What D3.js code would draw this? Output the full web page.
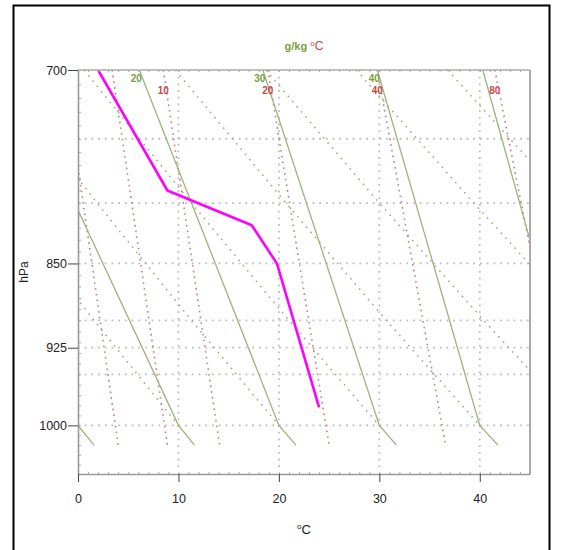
<!DOCTYPE html>
<html>
<head>
<meta charset="utf-8">
<script src="https://cdn.jsdelivr.net/npm/d3@7"></script>
<style>
  body { margin: 0; background: #fff; }
  svg { font-family: Arial, "Liberation Sans", sans-serif; }
</style>
</head>
<body>
<svg id="chart" width="561" height="550"></svg>
<script>
// sounding profile (magenta)
const soundP = [700, 790, 818, 850, 982];
const soundT = [2.0, 8.9, 17.3, 19.8, 24.0];

// moist adiabats (solid green) - temps at 700 / 1000 / 1020 hPa
const moistLabels = [0, 10, 20, 30, 40, 50];
const moistP = [700, 1000, 1020];
const moistT700 = [-20.0, -6.5, 6.1, 18.4, 29.8, 40.3];
const moistT1000 = [0.0, 10.0, 20.0, 30.0, 40.0, 50.1];
const moistT1020 = [1.6, 11.6, 21.7, 31.7, 41.8, 51.8];
const moistShown = [20, 30, 40];

// mixing ratio lines (red dots) g/kg - temps at 700 / 1020 hPa
const mixLabels = [5, 7, 10, 20, 40, 80];
const mixP = [700, 1020];
const mixT700 = [-1.4, 3.4, 8.5, 18.9, 29.8, 41.5];
const mixT1020 = [4.0, 8.9, 14.1, 25.0, 36.6, 48.9];
const mixShown = [10, 20, 40, 80];

// dry adiabats (green dots) - temps at 700 / 800 / 900 / 1000 hPa
const dryLabels = [10, 20, 30, 40, 50, 60, 70];
const dryP = [700, 800, 900, 1000];
const dryT700 = [-17.4, -8.4, 0.6, 9.7, 18.7, 27.7, 36.8];
const dryT800 = [-7.5, 1.9, 11.3, 20.7, 30.0, 39.4, 48.8];
const dryT900 = [1.6, 11.3, 21.0, 30.7, 40.4, 50.1, 59.8];
const dryT1000 = [10, 20, 30, 40, 50, 60, 70];

// axes
const pTicks = [700, 850, 925, 1000];
const tTicks = [0, 10, 20, 30, 40];
const pGrid = [750, 800, 850, 900, 925, 950, 1000];
const tGrid = [10, 20, 30, 40];

const green = "#9bb47a", greenTxt = "#7a9e40";
const red = "#d27878", redTxt = "#bf4c4c";
const grey = "#bdbdbd";

let svg = d3.select("#chart");
let margin = { top: 70, right: 31, bottom: 76, left: 78 };
let width = 561 - margin.left - margin.right;   // 452
let height = 550 - margin.top - margin.bottom;  // 404

// outer black frame
svg.append("rect")
    .attr("x", 13.5).attr("y", 5.5)
    .attr("width", 536).attr("height", 560)
    .attr("fill", "none").attr("stroke", "#000").attr("stroke-width", 2);

let x = d3.scaleLinear([0, 45], [0, width]);
let y = d3.scaleLog([700, 1050], [0, height]);

let g = svg.append("g").attr("transform", "translate(" + margin.left + "," + margin.top + ")");

g.append("clipPath").attr("id", "clip")
    .append("rect").attr("width", width).attr("height", height);

let line = d3.line().x(d => x(d[1])).y(d => y(d[0]));

// grid
let grid = g.append("g");
grid.selectAll(".hg").data(pGrid).enter().append("line")
    .attr("x1", 0).attr("x2", width)
    .attr("y1", d => y(d)).attr("y2", d => y(d))
    .attr("stroke", grey).attr("stroke-width", 1.8).attr("stroke-dasharray", "1.8,4.9");
grid.selectAll(".vg").data(tGrid).enter().append("line")
    .attr("x1", d => x(d)).attr("x2", d => x(d))
    .attr("y1", 0).attr("y2", height - 6)
    .attr("stroke", grey).attr("stroke-width", 1.8).attr("stroke-dasharray", "1.8,4.9");

let lines = g.append("g").attr("clip-path", "url(#clip)");

// dry adiabats
lines.selectAll(".dry").data(dryLabels).enter().append("path")
    .attr("d", (d, i) => line(d3.zip(dryP, [dryT700[i], dryT800[i], dryT900[i], dryT1000[i]])))
    .attr("fill", "none").attr("stroke", green).attr("stroke-width", 1.6)
    .attr("stroke-dasharray", "1.6,5.2");

// mixing ratio
lines.selectAll(".mix").data(mixLabels).enter().append("path")
    .attr("d", (d, i) => line(d3.zip(mixP, [mixT700[i], mixT1020[i]])))
    .attr("fill", "none").attr("stroke", red).attr("stroke-width", 1.6)
    .attr("stroke-dasharray", "1.6,4.2");

// moist adiabats
lines.selectAll(".moist").data(moistLabels).enter().append("path")
    .attr("d", (d, i) => line(d3.zip(moistP, [moistT700[i], moistT1000[i], moistT1020[i]])))
    .attr("fill", "none").attr("stroke", green).attr("stroke-width", 1.3);

// sounding
lines.append("path")
    .attr("d", line(d3.zip(soundP, soundT)))
    .attr("fill", "none").attr("stroke", "#ff00ff").attr("stroke-width", 2.6)
    .attr("stroke-linejoin", "round");

// labels on the lines
g.selectAll(".mlab").data(moistShown).enter().append("text")
    .attr("x", d => x(moistT700[moistLabels.indexOf(d)]) - 3)
    .attr("y", 12)
    .attr("text-anchor", "middle").attr("font-size", 10).attr("font-weight", "bold")
    .attr("fill", greenTxt).text(d => d);
g.selectAll(".wlab").data(mixShown).enter().append("text")
    .attr("x", d => x(mixT700[mixLabels.indexOf(d)]))
    .attr("y", 24)
    .attr("text-anchor", "middle").attr("font-size", 10).attr("font-weight", "bold")
    .attr("fill", redTxt).text(d => d);

// minor ticks
g.append("g").call(d3.axisRight(y).tickValues(d3.range(710, 1050, 10)).tickSize(3).tickFormat(""))
    .call(a => a.select(".domain").remove())
    .selectAll("line").attr("stroke", "#aaa");
g.append("g").call(d3.axisBottom(x).tickValues(d3.range(1, 45, 1)).tickSize(2).tickFormat(""))
    .call(a => a.select(".domain").remove())
    .selectAll("line").attr("stroke", "#aaa");
g.append("g").attr("transform", "translate(0," + height + ")")
    .call(d3.axisTop(x).tickValues(d3.range(1, 45, 1)).tickSize(2).tickFormat(""))
    .call(a => a.select(".domain").remove())
    .selectAll("line").attr("stroke", "#aaa");

// frame
g.append("line").attr("x1", 0).attr("x2", width).attr("y1", 0).attr("y2", 0)
    .attr("stroke", "#aaa").attr("stroke-width", 1.5);
g.append("line").attr("x1", width).attr("x2", width).attr("y1", 0).attr("y2", height)
    .attr("stroke", "#aaa").attr("stroke-width", 2);

// axes
let yAxis = g.append("g")
    .call(d3.axisLeft(y).tickValues(pTicks).tickFormat(d3.format("d")).tickSize(10).tickSizeOuter(0).tickPadding(1));
let xAxis = g.append("g").attr("transform", "translate(0," + height + ")")
    .call(d3.axisBottom(x).tickValues(tTicks).tickSize(8).tickSizeOuter(0).tickPadding(12));
[yAxis, xAxis].forEach(a => {
    a.select(".domain").attr("stroke", "#999").attr("stroke-width", 1.6);
    a.selectAll(".tick line").attr("stroke", "#444");
    a.selectAll("text").attr("font-size", 12.5).attr("fill", "#222")
        .attr("font-family", "Arial, 'Liberation Sans', sans-serif");
});

// axis titles
svg.append("text")
    .attr("transform", "translate(28,272) rotate(-90)")
    .attr("text-anchor", "middle").attr("font-size", 12).attr("fill", "#222")
    .text("hPa");

let xt = svg.append("text")
    .attr("x", 304).attr("y", 534)
    .attr("text-anchor", "middle").attr("font-size", 13).attr("fill", "#222");
xt.append("tspan").attr("font-size", 8).attr("dy", -5).text("o");
xt.append("tspan").attr("dy", 5).text("C");

let title = svg.append("text")
    .attr("x", 304).attr("y", 50)
    .attr("text-anchor", "middle").attr("font-size", 11).attr("font-weight", "bold");
title.append("tspan").attr("fill", greenTxt).text("g/kg ");
title.append("tspan").attr("fill", redTxt).attr("font-weight", "normal").attr("font-size", 8).attr("dy", -4).text("o");
title.append("tspan").attr("fill", redTxt).attr("font-weight", "normal").attr("font-size", 12).attr("dy", 4).text("C");
</script>
</body>
</html>
